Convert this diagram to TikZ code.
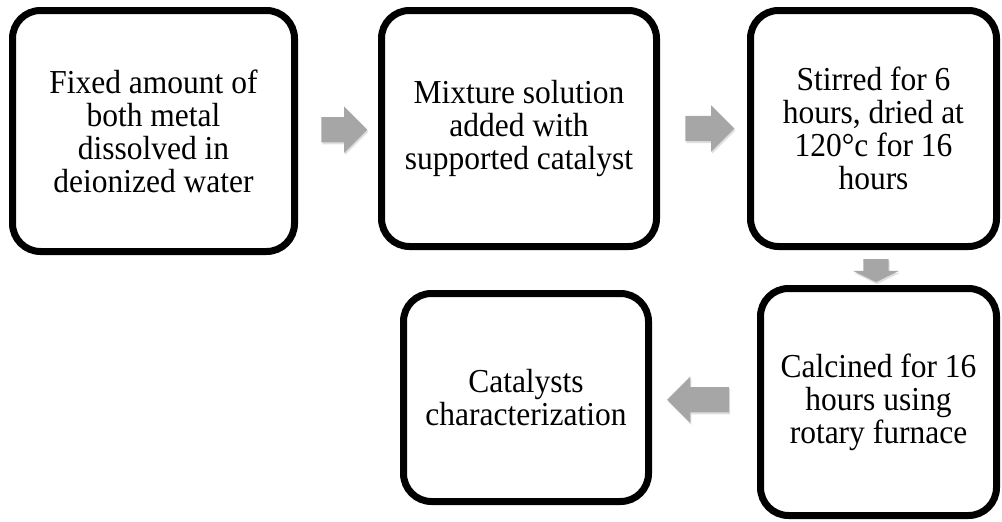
\documentclass[tikz,border=0pt]{standalone}
\usepackage{fontspec}
\setmainfont[FakeStretch=0.94]{Liberation Serif}
\usetikzlibrary{shapes.arrows,shadows,calc}
\definecolor{arrowgray}{HTML}{A6A6A6}
\begin{document}
\begin{tikzpicture}[x=1pt,y=1pt,
 stepbox/.style={draw=black, line width=7pt, rounded corners=28pt, fill=white,
   align=center, inner sep=0pt, font=\fontsize{33.5}{33}\selectfont,
   drop shadow={shadow xshift=1.5pt, shadow yshift=-3pt, opacity=0.3, fill=black!60}},
 blockarrow/.style={single arrow, fill=arrowgray, draw=none,
   single arrow head extend=10.5pt, inner xsep=0pt, inner ysep=12.5pt,
   drop shadow={shadow xshift=1pt, shadow yshift=-2pt, opacity=0.25, fill=black!50}}]
\useasboundingbox (0,0) rectangle (1002,-522);

\node[stepbox, minimum width=282pt, minimum height=241pt] (b1) at (153.5,-131)
  {Fixed amount of\\both metal\\dissolved in\\deionized water};
\node[stepbox, minimum width=275pt, minimum height=236pt] (b2) at (519,-128.5)
  {Mixture solution\\added with\\supported catalyst};
\node[stepbox, minimum width=246pt, minimum height=236pt] (b3) at (873.5,-128.5)
  {Stirred for 6\\hours, dried at\\120°c for 16\\hours};
\node[stepbox, minimum width=245pt, minimum height=208pt] (b4) at (526,-397.5)
  {Catalysts\\characterization};
\node[stepbox, minimum width=236pt, minimum height=227pt] (b5) at (878.5,-402)
  {Calcined for 16\\hours using\\rotary furnace};

\node[blockarrow, minimum height=46pt] (a1) at ($(b1.east)!0.5!(b2.west)$) {};
\node[blockarrow, minimum height=49pt] (a2) at ($(b2.east)!0.5!(b3.west)$) {};
\node[blockarrow, minimum height=23pt, single arrow tip angle=128, rotate=-90] (a3) at ($(b3.south)!0.5!(b5.north)$) {};
\node[blockarrow, minimum height=62pt, rotate=180] (a4) at ($(b5.west)!0.5!(b4.east)$) {};
\end{tikzpicture}
\end{document}
